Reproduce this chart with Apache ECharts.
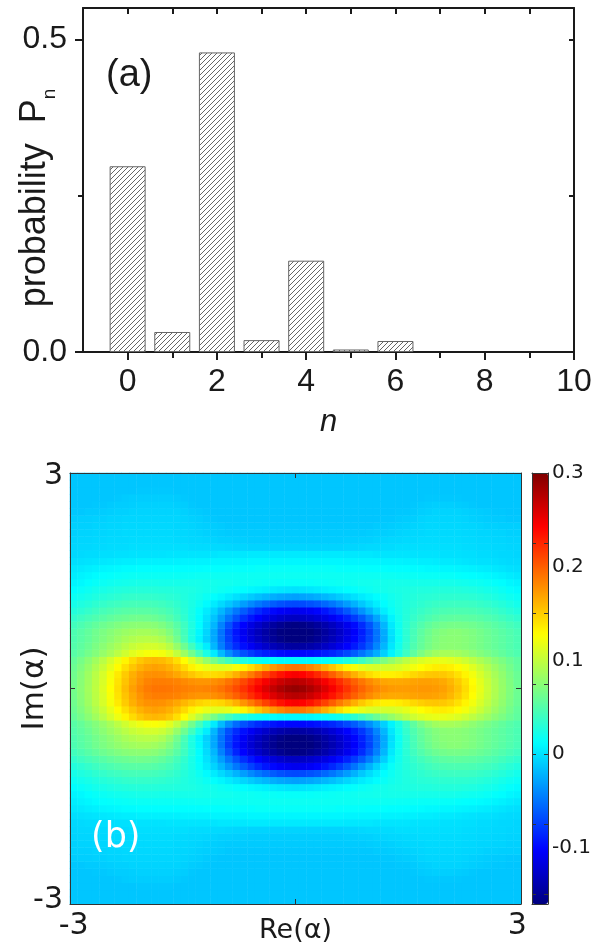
<!DOCTYPE html>
<html><head><meta charset="utf-8">
<script src="https://cdn.jsdelivr.net/npm/echarts@6/dist/echarts.min.js"></script>
<style>html,body{margin:0;padding:0;background:#fff}#c{width:607px;height:947px}</style>
</head><body><div id="c"></div>
<script>
// ---------- (a) photon-number distribution ----------
const nValues = [0, 1, 2, 3, 4, 5, 6];
const probValues = [0.297, 0.032, 0.479, 0.019, 0.146, 0.004, 0.0176];
const barXTicks = [0, 2, 4, 6, 8, 10];
const barXMinor = [1, 3, 5, 7, 9];
const barXTopTicks = [0, 1, 2, 3, 4, 5, 6, 7, 8, 9, 10];
const barYTicks = [0, 0.5];
const barYMinor = [0.25];
const barYRight = [0.25, 0.5];

// ---------- (b) Wigner function W(Re a, Im a) ----------
const reVals = [-3,-2.9,-2.8,-2.7,-2.6,-2.5,-2.4,-2.3,-2.2,-2.1,-2,-1.9,-1.8,-1.7,-1.6,-1.5,-1.4,-1.3,-1.2,-1.1,-1,-0.9,-0.8,-0.7,-0.6,-0.5,-0.4,-0.3,-0.2,-0.1,0,0.1,0.2,0.3,0.4,0.5,0.6,0.7,0.8,0.9,1,1.1,1.2,1.3,1.4,1.5,1.6,1.7,1.8,1.9,2,2.1,2.2,2.3,2.4,2.5,2.6,2.7,2.8,2.9,3];
const imVals = [-3,-2.9,-2.8,-2.7,-2.6,-2.5,-2.4,-2.3,-2.2,-2.1,-2,-1.9,-1.8,-1.7,-1.6,-1.5,-1.4,-1.3,-1.2,-1.1,-1,-0.9,-0.8,-0.7,-0.6,-0.5,-0.4,-0.3,-0.2,-0.1,0,0.1,0.2,0.3,0.4,0.5,0.6,0.7,0.8,0.9,1,1.1,1.2,1.3,1.4,1.5,1.6,1.7,1.8,1.9,2,2.1,2.2,2.3,2.4,2.5,2.6,2.7,2.8,2.9,3];
// wYkk : row at |Im a| = k/10, values for Re a = -3 ... 3
const wY00 = [.065,.075,.086,.098,.112,.127,.142,.157,.17,.18,.187,.19,.19,.189,.187,.185,.183,.182,.183,.186,.191,.199,.209,.22,.232,.245,.258,.27,.28,.287,
  .29,.287,.28,.27,.258,.245,.232,.22,.208,.197,.188,.181,.176,.173,.172,.172,.173,.174,.174,.173,.17,.164,.155,.143,.13,.117,.104,.092,.081,.071,.062];
const wY01 = [.064,.074,.085,.097,.11,.125,.14,.154,.166,.176,.183,.186,.186,.185,.183,.18,.177,.175,.175,.178,.182,.19,.199,.21,.222,.234,.246,.257,.266,.272,
  .275,.272,.266,.257,.246,.234,.222,.21,.199,.189,.18,.173,.168,.166,.166,.167,.169,.17,.17,.169,.166,.16,.151,.14,.128,.115,.103,.091,.08,.07,.061];
const wY02 = [.063,.073,.084,.096,.109,.123,.137,.151,.163,.172,.177,.178,.177,.173,.167,.16,.153,.147,.143,.143,.146,.153,.163,.175,.187,.2,.213,.225,.235,.242,
  .245,.242,.235,.225,.213,.2,.187,.175,.163,.152,.143,.137,.134,.134,.136,.14,.145,.149,.152,.153,.152,.148,.141,.132,.122,.11,.099,.088,.078,.068,.06];
const wY03 = [.061,.07,.08,.091,.103,.116,.129,.142,.153,.162,.168,.17,.168,.163,.155,.144,.133,.124,.118,.115,.114,.117,.124,.132,.142,.153,.164,.174,.182,.188,
  .19,.188,.182,.174,.164,.153,.142,.132,.124,.117,.112,.109,.108,.108,.111,.116,.122,.128,.132,.135,.136,.134,.129,.122,.113,.103,.093,.083,.074,.065,.057];
const wY04 = [.058,.066,.075,.085,.096,.108,.12,.132,.143,.152,.158,.16,.158,.152,.142,.128,.112,.096,.08,.066,.053,.042,.032,.025,.02,.017,.014,.012,.01,.01,
  .01,.01,.01,.012,.014,.017,.02,.025,.032,.04,.05,.06,.07,.079,.088,.097,.105,.111,.115,.117,.117,.115,.111,.105,.098,.09,.083,.075,.068,.061,.055];
const wY05 = [.052,.058,.065,.072,.08,.088,.097,.106,.114,.12,.124,.125,.122,.114,.1,.083,.064,.044,.024,.004,-.018,-.038,-.054,-.066,-.075,-.083,-.089,-.094,-.098,-.1,
  -.1,-.1,-.098,-.095,-.09,-.085,-.078,-.07,-.061,-.05,-.038,-.024,-.008,.008,.024,.04,.055,.068,.078,.085,.088,.088,.086,.082,.077,.072,.067,.062,.057,.052,.048];
const wY06 = [.05,.055,.061,.068,.075,.082,.089,.096,.102,.106,.108,.108,.104,.095,.08,.062,.042,.022,.005,-.02,-.045,-.067,-.083,-.096,-.107,-.117,-.126,-.134,-.14,-.144,
  -.145,-.144,-.141,-.136,-.129,-.121,-.112,-.102,-.091,-.078,-.062,-.042,-.02,.002,.02,.035,.048,.058,.066,.072,.075,.076,.075,.073,.07,.066,.062,.058,.054,.05,.046];
const wY07 = [.048,.053,.058,.064,.07,.076,.082,.088,.092,.095,.096,.095,.09,.08,.064,.045,.025,.008,-.008,-.026,-.05,-.073,-.091,-.106,-.119,-.13,-.14,-.149,-.156,-.161,
  -.162,-.161,-.157,-.151,-.143,-.134,-.124,-.113,-.101,-.087,-.07,-.05,-.026,-.002,.017,.032,.045,.056,.064,.07,.074,.075,.075,.073,.07,.066,.062,.058,.054,.05,.046];
const wY08 = [.047,.052,.057,.063,.068,.073,.078,.082,.085,.087,.087,.085,.08,.071,.058,.042,.025,.01,-.006,-.026,-.05,-.075,-.094,-.109,-.122,-.133,-.143,-.152,-.159,-.164,
  -.165,-.164,-.16,-.154,-.146,-.137,-.127,-.116,-.104,-.09,-.072,-.05,-.025,0,.018,.032,.044,.054,.062,.068,.072,.074,.074,.072,.069,.065,.061,.057,.053,.049,.045];
const wY09 = [.042,.047,.052,.057,.062,.066,.07,.073,.075,.076,.076,.074,.069,.062,.052,.04,.026,.012,-.003,-.02,-.043,-.066,-.086,-.102,-.115,-.126,-.136,-.145,-.152,-.157,
  -.158,-.157,-.153,-.147,-.14,-.131,-.121,-.11,-.098,-.083,-.065,-.044,-.02,.003,.019,.031,.041,.049,.056,.061,.064,.066,.066,.065,.063,.06,.057,.053,.049,.045,.041];
const wY10 = [.035,.04,.044,.048,.052,.056,.059,.061,.063,.064,.063,.061,.057,.051,.043,.034,.023,.012,0,-.014,-.031,-.049,-.066,-.081,-.093,-.103,-.112,-.119,-.125,-.129,
  -.13,-.129,-.126,-.121,-.115,-.107,-.098,-.088,-.076,-.062,-.046,-.028,-.009,.008,.02,.029,.036,.042,.047,.051,.054,.055,.056,.055,.054,.052,.049,.046,.042,.038,.034];
const wY11 = [.028,.032,.036,.04,.044,.047,.05,.052,.053,.053,.053,.051,.048,.044,.038,.031,.023,.014,.004,-.007,-.02,-.034,-.048,-.061,-.073,-.084,-.093,-.1,-.105,-.108,
  -.11,-.109,-.106,-.101,-.094,-.085,-.075,-.063,-.05,-.036,-.022,-.008,.005,.015,.022,.028,.033,.037,.041,.044,.046,.047,.047,.047,.046,.044,.042,.039,.035,.031,.027];
const wY12 = [.022,.026,.029,.033,.036,.039,.041,.043,.044,.044,.044,.043,.041,.038,.034,.029,.024,.018,.011,.004,-.004,-.012,-.021,-.031,-.04,-.048,-.055,-.061,-.066,-.069,
  -.07,-.069,-.066,-.062,-.056,-.049,-.041,-.032,-.022,-.012,-.003,.005,.012,.018,.023,.027,.03,.033,.036,.038,.039,.04,.04,.04,.039,.037,.035,.032,.029,.025,.021];
const wY13 = [.017,.02,.023,.026,.029,.031,.033,.035,.036,.036,.036,.035,.034,.032,.03,.027,.024,.021,.017,.013,.009,.004,-.001,-.006,-.011,-.016,-.02,-.024,-.027,-.029,
  -.03,-.029,-.027,-.024,-.02,-.016,-.011,-.006,-.001,.004,.008,.012,.016,.02,.023,.026,.028,.03,.031,.032,.033,.033,.033,.033,.032,.03,.028,.025,.022,.019,.016];
const wY14 = [.012,.015,.018,.021,.023,.025,.027,.028,.029,.029,.029,.029,.028,.028,.027,.026,.025,.023,.021,.02,.018,.016,.014,.012,.01,.008,.006,.004,.002,.001,
  0,.001,.002,.004,.006,.008,.01,.012,.014,.016,.018,.02,.021,.023,.024,.025,.026,.027,.027,.028,.028,.028,.028,.027,.026,.024,.022,.02,.017,.014,.011];
const wY15 = [.008,.01,.013,.015,.017,.019,.02,.021,.022,.023,.023,.023,.022,.022,.022,.022,.022,.022,.021,.021,.02,.02,.019,.018,.018,.017,.016,.016,.015,.015,
  .015,.015,.015,.016,.016,.017,.018,.018,.019,.02,.02,.021,.021,.022,.022,.022,.022,.022,.022,.022,.022,.022,.021,.02,.019,.018,.016,.014,.012,.009,.007];
const wY16 = [.005,.007,.009,.011,.013,.014,.015,.016,.017,.017,.017,.017,.017,.017,.017,.017,.017,.018,.018,.018,.018,.018,.018,.018,.018,.018,.018,.018,.018,.018,
  .018,.018,.018,.018,.018,.018,.018,.018,.018,.018,.018,.018,.018,.018,.017,.017,.017,.016,.016,.016,.015,.015,.014,.013,.012,.011,.01,.008,.006,.004,.002];
const wY17 = [.002,.003,.005,.006,.008,.009,.01,.011,.011,.012,.012,.012,.012,.012,.012,.012,.012,.012,.013,.013,.013,.014,.014,.014,.014,.015,.015,.015,.015,.015,
  .015,.015,.015,.015,.015,.015,.014,.014,.014,.014,.013,.013,.013,.012,.012,.012,.011,.011,.01,.01,.009,.009,.008,.007,.006,.005,.004,.002,.001,-.001,-.002];
const wY18 = [-.002,-.001,0,.001,.002,.003,.004,.005,.005,.006,.006,.006,.006,.006,.006,.007,.007,.007,.007,.008,.008,.008,.008,.008,.009,.009,.009,.009,.009,.009,
  .009,.009,.009,.009,.009,.009,.009,.008,.008,.008,.008,.008,.007,.007,.007,.006,.006,.005,.005,.004,.003,.003,.002,.001,0,-.001,-.001,-.002,-.003,-.004,-.004];
const wY19 = [-.005,-.004,-.003,-.003,-.002,-.002,-.001,-.001,0,0,0,0,0,.001,.001,.001,.001,.001,.001,.001,.002,.002,.002,.002,.003,.003,.003,.003,.003,.003,
  .003,.003,.003,.003,.003,.003,.003,.002,.002,.002,.002,.001,.001,.001,.001,.001,0,0,0,0,-.001,-.001,-.001,-.002,-.002,-.003,-.003,-.004,-.005,-.005,-.006];
const wY20 = [-.006,-.005,-.005,-.004,-.004,-.003,-.003,-.003,-.002,-.002,-.002,-.002,-.002,-.002,-.002,-.002,-.003,-.003,-.003,-.004,-.004,-.005,-.006,-.006,-.007,-.007,-.007,-.007,-.007,-.007,
  -.007,-.007,-.007,-.007,-.007,-.007,-.007,-.006,-.006,-.005,-.004,-.004,-.003,-.003,-.002,-.002,-.002,-.002,-.002,-.002,-.002,-.002,-.002,-.003,-.003,-.004,-.004,-.005,-.005,-.006,-.006];
const wY21 = [-.007,-.006,-.006,-.005,-.005,-.004,-.004,-.004,-.003,-.003,-.003,-.003,-.003,-.003,-.004,-.004,-.005,-.005,-.006,-.007,-.008,-.008,-.009,-.009,-.01,-.01,-.01,-.01,-.01,-.01,
  -.01,-.01,-.01,-.01,-.01,-.01,-.01,-.009,-.009,-.008,-.008,-.007,-.006,-.005,-.005,-.004,-.004,-.003,-.003,-.003,-.003,-.003,-.003,-.004,-.004,-.005,-.005,-.006,-.006,-.007,-.007];
const wY22 = [-.008,-.007,-.007,-.006,-.006,-.005,-.005,-.004,-.004,-.004,-.004,-.004,-.004,-.004,-.005,-.005,-.006,-.007,-.008,-.009,-.01,-.011,-.011,-.011,-.011,-.011,-.011,-.011,-.011,-.011,
  -.011,-.011,-.011,-.011,-.011,-.011,-.011,-.011,-.011,-.011,-.01,-.009,-.009,-.008,-.007,-.006,-.005,-.005,-.004,-.004,-.004,-.004,-.004,-.005,-.005,-.006,-.006,-.007,-.007,-.008,-.008];
const wY23 = [-.008,-.008,-.008,-.007,-.007,-.006,-.006,-.005,-.005,-.005,-.005,-.005,-.005,-.005,-.006,-.006,-.007,-.008,-.009,-.01,-.011,-.012,-.012,-.012,-.012,-.012,-.012,-.012,-.012,-.012,
  -.012,-.012,-.012,-.012,-.012,-.012,-.012,-.012,-.012,-.012,-.012,-.011,-.011,-.01,-.009,-.008,-.007,-.006,-.005,-.005,-.005,-.005,-.005,-.006,-.006,-.007,-.008,-.008,-.009,-.009,-.009];
const wY24 = [-.01,-.009,-.009,-.008,-.008,-.007,-.007,-.006,-.006,-.006,-.006,-.006,-.006,-.006,-.006,-.007,-.008,-.009,-.011,-.012,-.013,-.013,-.013,-.013,-.013,-.013,-.013,-.013,-.013,-.013,
  -.013,-.013,-.013,-.013,-.013,-.013,-.013,-.013,-.013,-.013,-.013,-.013,-.012,-.012,-.011,-.01,-.009,-.007,-.006,-.006,-.006,-.006,-.006,-.007,-.008,-.009,-.01,-.011,-.011,-.012,-.012];
const wY25 = [-.012,-.012,-.011,-.011,-.01,-.009,-.008,-.008,-.007,-.007,-.007,-.007,-.007,-.007,-.007,-.008,-.01,-.011,-.012,-.013,-.013,-.013,-.013,-.013,-.013,-.013,-.013,-.013,-.013,-.013,
  -.013,-.013,-.013,-.013,-.013,-.013,-.013,-.013,-.013,-.013,-.013,-.013,-.013,-.013,-.012,-.012,-.011,-.009,-.008,-.007,-.007,-.007,-.007,-.008,-.009,-.01,-.011,-.012,-.012,-.013,-.013];
const wY26 = [-.013,-.013,-.013,-.012,-.012,-.011,-.01,-.01,-.009,-.008,-.008,-.008,-.008,-.008,-.009,-.01,-.012,-.013,-.013,-.013,-.013,-.013,-.013,-.013,-.013,-.013,-.013,-.013,-.013,-.013,
  -.013,-.013,-.013,-.013,-.013,-.013,-.013,-.013,-.013,-.013,-.013,-.013,-.013,-.013,-.013,-.013,-.012,-.011,-.01,-.009,-.009,-.009,-.01,-.011,-.012,-.013,-.013,-.013,-.013,-.013,-.013];
const wY27 = [-.013,-.013,-.013,-.013,-.013,-.013,-.012,-.011,-.01,-.01,-.01,-.01,-.01,-.01,-.011,-.012,-.013,-.013,-.013,-.013,-.013,-.013,-.013,-.013,-.013,-.013,-.013,-.013,-.013,-.013,
  -.013,-.013,-.013,-.013,-.013,-.013,-.013,-.013,-.013,-.013,-.013,-.013,-.013,-.013,-.013,-.013,-.013,-.013,-.012,-.012,-.012,-.012,-.012,-.013,-.013,-.013,-.013,-.013,-.013,-.013,-.013];
const wY28 = [-.013,-.013,-.013,-.013,-.013,-.013,-.013,-.013,-.013,-.012,-.012,-.012,-.012,-.012,-.013,-.013,-.013,-.013,-.013,-.013,-.013,-.013,-.013,-.013,-.013,-.013,-.013,-.013,-.013,-.013,
  -.013,-.013,-.013,-.013,-.013,-.013,-.013,-.013,-.013,-.013,-.013,-.013,-.013,-.013,-.013,-.013,-.013,-.013,-.013,-.013,-.013,-.013,-.013,-.013,-.013,-.013,-.013,-.013,-.013,-.013,-.013];
const wY29 = [-.013,-.013,-.013,-.013,-.013,-.013,-.013,-.013,-.013,-.013,-.013,-.013,-.013,-.013,-.013,-.013,-.013,-.013,-.013,-.013,-.013,-.013,-.013,-.013,-.013,-.013,-.013,-.013,-.013,-.013,
  -.013,-.013,-.013,-.013,-.013,-.013,-.013,-.013,-.013,-.013,-.013,-.013,-.013,-.013,-.013,-.013,-.013,-.013,-.013,-.013,-.013,-.013,-.013,-.013,-.013,-.013,-.013,-.013,-.013,-.013,-.013];
const wY30 = [-.013,-.013,-.013,-.013,-.013,-.013,-.013,-.013,-.013,-.013,-.013,-.013,-.013,-.013,-.013,-.013,-.013,-.013,-.013,-.013,-.013,-.013,-.013,-.013,-.013,-.013,-.013,-.013,-.013,-.013,
  -.013,-.013,-.013,-.013,-.013,-.013,-.013,-.013,-.013,-.013,-.013,-.013,-.013,-.013,-.013,-.013,-.013,-.013,-.013,-.013,-.013,-.013,-.013,-.013,-.013,-.013,-.013,-.013,-.013,-.013,-.013];
// bottom (Im a = -3) to top (Im a = 3); the picture is mirror-symmetric in Im a
const wignerRows = [wY30,wY29,wY28,wY27,wY26,wY25,wY24,wY23,wY22,wY21,wY20,wY19,wY18,wY17,wY16,wY15,wY14,wY13,wY12,wY11,wY10,wY09,wY08,wY07,wY06,wY05,wY04,wY03,wY02,wY01,
  wY00,
  wY01,wY02,wY03,wY04,wY05,wY06,wY07,wY08,wY09,wY10,wY11,wY12,wY13,wY14,wY15,wY16,wY17,wY18,wY19,wY20,wY21,wY22,wY23,wY24,wY25,wY26,wY27,wY28,wY29,wY30];
const colorbarTicks = [-0.1, 0, 0.1, 0.2, 0.3];
const colorbarDashes = [-0.15, -0.075, 0, 0.075, 0.15, 0.225];

// ---------- build ----------
const heatData = [];
wignerRows.forEach((row, j) => row.forEach((v, i) => heatData.push([i, j, v])));
const barData = nValues.map((n, i) => [n, probValues[i]]);
const lastIdx = reVals.length - 1;
const midIdx = lastIdx / 2;

const hatch = document.createElement('canvas');
hatch.width = 5; hatch.height = 5;
(function () {
  const g = hatch.getContext('2d');
  g.fillStyle = '#fff'; g.fillRect(0, 0, 5, 5);
  g.strokeStyle = '#555'; g.lineWidth = 0.9;
  g.beginPath();
  g.moveTo(0, 5); g.lineTo(5, 0);
  g.moveTo(-1, 1); g.lineTo(1, -1);
  g.moveTo(4, 6); g.lineTo(6, 4);
  g.stroke();
})();

const AF = 'Liberation Sans, Arial, sans-serif';
const DF = 'DejaVu Sans, sans-serif';
const ink = '#1a1a1a';
const frame = '#333';
const jet = ['#00007F','#0000FF','#007FFF','#00FFFF','#7FFF7F','#FFFF00','#FF7F00','#FF0000','#7F0000'];
const mid = (i) => i === midIdx;
const ends = (i) => i === 0 || i === lastIdx;

const option = {
  animation: false,
  backgroundColor: '#fff',
  title: [
    { text: '(a)', left: 106, top: 57, padding: 0, textStyle: { fontFamily: AF, fontSize: 38, fontWeight: 'normal', color: ink } },
    { text: '(b)', left: 91, top: 820, padding: 0, textStyle: { fontFamily: DF, fontSize: 35, fontWeight: 'normal', color: '#fff' } }
  ],
  grid: [
    { left: 83, top: 8, width: 491, height: 344, outerBoundsMode: 'none' },
    { left: 70, top: 473, width: 451, height: 431, outerBoundsMode: 'none' },
    { left: 532, top: 473, width: 16, height: 431, outerBoundsMode: 'none' }
  ],
  xAxis: [
    { gridIndex: 0, type: 'value', min: -1, max: 10, position: 'bottom',
      axisLine: { show: true, onZero: false, lineStyle: { color: ink, width: 2 } },
      axisTick: { show: true, customValues: barXTicks, length: 8, lineStyle: { color: ink, width: 2 } },
      axisLabel: { customValues: barXTicks, fontFamily: AF, fontSize: 32, color: ink, margin: 14 },
      splitLine: { show: false },
      name: 'n', nameLocation: 'middle', nameGap: 55, nameMoveOverlap: false,
      nameTextStyle: { fontFamily: AF, fontSize: 31, fontStyle: 'italic', color: ink } },
    { gridIndex: 0, type: 'value', min: -1, max: 10, position: 'bottom',
      axisLine: { show: false, onZero: false },
      axisTick: { show: true, customValues: barXMinor, length: 6, lineStyle: { color: ink, width: 2 } },
      axisLabel: { show: false }, splitLine: { show: false } },
    { gridIndex: 0, type: 'value', min: -1, max: 10, position: 'top',
      axisLine: { show: true, onZero: false, lineStyle: { color: ink, width: 2 } },
      axisTick: { show: true, inside: true, customValues: barXTopTicks, length: 6, lineStyle: { color: ink, width: 2 } },
      axisLabel: { show: false }, splitLine: { show: false } },
    { gridIndex: 1, type: 'category', data: reVals.map(String), position: 'bottom', z: 10,
      axisLine: { show: true, onZero: false, lineStyle: { color: frame, width: 1 } },
      axisTick: { show: true, inside: true, alignWithLabel: true, interval: mid, length: 5, lineStyle: { color: frame } },
      axisLabel: { interval: ends, fontFamily: DF, fontSize: 30, color: ink, margin: 7 },
      splitLine: { show: false },
      name: 'Re(α)', nameLocation: 'middle', nameGap: 13, nameMoveOverlap: false,
      nameTextStyle: { fontFamily: DF, fontSize: 27, color: ink } },
    { gridIndex: 1, type: 'category', data: reVals.map(String), position: 'top', z: 10,
      axisLine: { show: true, onZero: false, lineStyle: { color: frame, width: 1 } },
      axisTick: { show: true, inside: true, alignWithLabel: true, interval: mid, length: 5, lineStyle: { color: frame } },
      axisLabel: { show: false }, splitLine: { show: false } },
    { gridIndex: 2, type: 'value', min: 0, max: 1, position: 'bottom', z: 10,
      axisLine: { show: true, onZero: false, lineStyle: { color: frame, width: 1 } },
      axisTick: { show: false }, axisLabel: { show: false }, splitLine: { show: false } },
    { gridIndex: 2, type: 'value', min: 0, max: 1, position: 'top', z: 10,
      axisLine: { show: true, onZero: false, lineStyle: { color: frame, width: 1 } },
      axisTick: { show: false }, axisLabel: { show: false }, splitLine: { show: false } }
  ],
  yAxis: [
    { gridIndex: 0, type: 'value', min: 0, max: 0.55, position: 'left',
      axisLine: { show: true, onZero: false, lineStyle: { color: ink, width: 2 } },
      axisTick: { show: true, customValues: barYTicks, length: 8, lineStyle: { color: ink, width: 2 } },
      axisLabel: { customValues: barYTicks, formatter: (v) => v.toFixed(1), fontFamily: AF, fontSize: 32, color: ink, margin: 16 },
      splitLine: { show: false },
      name: '{t|probability  P}{s|n}', nameLocation: 'middle', nameRotate: 90, nameGap: 28, nameMoveOverlap: false,
      nameTextStyle: { color: ink, fontFamily: AF, padding: [0, 36, 0, 0],
        rich: {
          t: { fontFamily: AF, fontSize: 36, color: ink, lineHeight: 38, verticalAlign: 'top' },
          s: { fontFamily: AF, fontSize: 19, color: ink, lineHeight: 19, verticalAlign: 'top', padding: [23, 0, 0, 0] }
        } } },
    { gridIndex: 0, type: 'value', min: 0, max: 0.55, position: 'left',
      axisLine: { show: false, onZero: false },
      axisTick: { show: true, customValues: barYMinor, length: 5, lineStyle: { color: ink, width: 2 } },
      axisLabel: { show: false }, splitLine: { show: false } },
    { gridIndex: 0, type: 'value', min: 0, max: 0.55, position: 'right',
      axisLine: { show: true, onZero: false, lineStyle: { color: ink, width: 2 } },
      axisTick: { show: true, inside: true, customValues: barYRight, length: 5, lineStyle: { color: ink, width: 2 } },
      axisLabel: { show: false }, splitLine: { show: false } },
    { gridIndex: 1, type: 'category', data: imVals.map(String), position: 'left', z: 10,
      axisLine: { show: true, onZero: false, lineStyle: { color: frame, width: 1 } },
      axisTick: { show: true, inside: true, alignWithLabel: true, interval: mid, length: 5, lineStyle: { color: frame } },
      axisLabel: { interval: ends, fontFamily: DF, fontSize: 30, color: ink, margin: 7 },
      splitLine: { show: false },
      name: 'Im(α)', nameLocation: 'middle', nameRotate: 90, nameGap: 20, nameMoveOverlap: false,
      nameTextStyle: { fontFamily: DF, fontSize: 31, color: ink } },
    { gridIndex: 1, type: 'category', data: imVals.map(String), position: 'right', z: 10,
      axisLine: { show: true, onZero: false, lineStyle: { color: frame, width: 1 } },
      axisTick: { show: true, inside: true, alignWithLabel: true, interval: mid, length: 5, lineStyle: { color: frame } },
      axisLabel: { show: false }, splitLine: { show: false } },
    { gridIndex: 2, type: 'value', min: -0.16, max: 0.3, position: 'right', z: 10,
      axisLine: { show: true, onZero: false, lineStyle: { color: frame, width: 1 } },
      axisTick: { show: true, inside: true, customValues: colorbarDashes, length: 4, lineStyle: { color: frame, width: 1 } },
      axisLabel: { customValues: colorbarTicks, formatter: (v) => (v === 0 ? '0' : String(v)), fontFamily: DF, fontSize: 20, color: ink, margin: 4 },
      splitLine: { show: false } },
    { gridIndex: 2, type: 'value', min: -0.16, max: 0.3, position: 'left', z: 10,
      axisLine: { show: true, onZero: false, lineStyle: { color: frame, width: 1 } },
      axisTick: { show: true, inside: true, customValues: colorbarDashes, length: 4, lineStyle: { color: frame, width: 1 } },
      axisLabel: { show: false }, splitLine: { show: false } }
  ],
  visualMap: {
    type: 'continuous', seriesIndex: 1, min: -0.16, max: 0.3,
    calculable: false, orient: 'vertical', left: 532, top: 473,
    itemWidth: 16, itemHeight: 431, padding: 0, text: null,
    inRange: { color: jet }
  },
  series: [
    { type: 'bar', xAxisIndex: 0, yAxisIndex: 0, data: barData, barWidth: 36, silent: true,
      itemStyle: { color: { image: hatch, repeat: 'repeat' }, borderColor: '#666', borderWidth: 1 } },
    { type: 'heatmap', xAxisIndex: 3, yAxisIndex: 3, data: heatData, silent: true, progressive: 0,
      emphasis: { disabled: true }, itemStyle: { borderWidth: 0 } }
  ]
};
const chart = echarts.init(document.getElementById('c'), null, { renderer: 'canvas' });
chart.setOption(option);
const bad = wignerRows.map((r, k) => [k, r.length]).filter((p) => p[1] !== reVals.length);
if (bad.length) { throw new Error('row length mismatch: ' + JSON.stringify(bad)); }
</script>
</body></html>
